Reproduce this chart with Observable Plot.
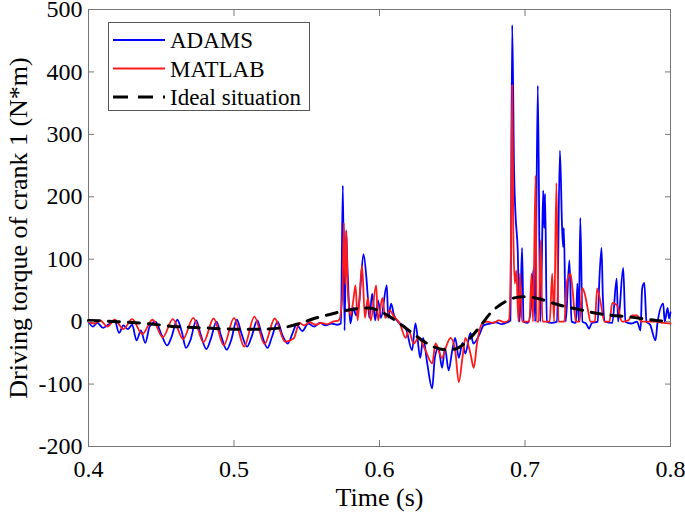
<!DOCTYPE html>
<html><head><meta charset="utf-8">
<script src="https://cdn.jsdelivr.net/npm/d3@7"></script>
<script src="https://cdn.jsdelivr.net/npm/@observablehq/plot@0.6"></script>
<style>
body{margin:0;background:#fff;}
#wrap{position:relative;width:685px;height:519px;}
#legend{position:absolute;left:108px;top:22px;}
</style>
</head><body>
<div id="wrap"><div id="chart"></div><div id="legend"></div></div>
<script>
const xTicks = [0.4, 0.5, 0.6, 0.7, 0.8];
const yTicks = [-200, -100, 0, 100, 200, 300, 400, 500];
const seriesNames = ["ADAMS", "MATLAB", "Ideal situation"];
const xLabel = "Time (s)";
const yLabel = "Driving torque of crank 1 (N*m)";

const adamsT = [0.400,0.403,0.406,0.410,0.414,0.418,0.421,0.424,0.427,0.430,0.433,0.436,0.439,0.442,0.446,0.450,0.454,0.457,0.461,0.464,0.467,0.470,0.474,0.477,0.481,0.484,0.488,0.491,0.495,0.498,0.502,0.505,0.509,0.512,0.516,0.519,0.523,0.526,0.530,0.533,0.537,0.540,0.543,0.547,0.551,0.555,0.559,0.563,0.567,0.571,0.5735,0.5748,0.576,0.5771,0.5778,0.579,0.580,0.582,0.584,0.586,0.589,0.591,0.592,0.593,0.595,0.597,0.599,0.601,0.605,0.606,0.608,0.610,0.614,0.618,0.6224,0.6247,0.628,0.630,0.6328,0.6362,0.638,0.6405,0.643,0.645,0.6475,0.650,0.652,0.6545,0.657,0.659,0.6625,0.6645,0.669,0.6715,0.676,0.680,0.684,0.688,0.690,0.6912,0.6925,0.6935,0.695,0.6962,0.697,0.698,0.699,0.702,0.704,0.706,0.707,0.7088,0.7105,0.7115,0.7125,0.7132,0.7138,0.715,0.718,0.722,0.724,0.7255,0.7262,0.7267,0.728,0.7305,0.732,0.735,0.736,0.737,0.738,0.7395,0.742,0.744,0.746,0.750,0.751,0.7526,0.7535,0.755,0.760,0.763,0.764,0.7675,0.769,0.773,0.777,0.7794,0.7805,0.782,0.7835,0.786,0.7897,0.791,0.795,0.796,0.798,0.799,0.800];
const adamsV = [0,-8,-2,-10,-4,2,-18,-6,-12,-5,-30,-14,-34,-8,0,-20,-38,-25,3,-15,-42,-30,2,-20,-44,-28,0,-22,-45,-30,3,-18,-40,-25,2,-20,-42,-25,0,-20,-35,-20,-5,-15,-3,-8,-2,-6,-3,-5,-3,218,-14,146,98,29,-3,22,10,30,108,70,38,6,45,2,34,6,58,6,29,10,-3,-10,-46,-3,-58,-26,-67,-107,-58,-42,-74,-42,-78,-46,-26,-58,-34,-51,-18,-35,-19,-6,-3,-1,-4,-1,2,475,240,170,114,0,40,118,0,-2,20,86,0,378,0,90,210,150,205,0,-2,0,274,150,120,150,0,98,0,-2,61,0,166,0,-3,-11,-2,0,61,118,40,0,-2,69,0,86,0,-3,0,-14,53,62,0,-5,-30,-3,29,0,22,5,15];

const matlabT = [0.400,0.404,0.408,0.413,0.418,0.424,0.430,0.437,0.444,0.451,0.458,0.465,0.472,0.479,0.486,0.493,0.500,0.507,0.514,0.521,0.528,0.535,0.541,0.545,0.548,0.552,0.556,0.560,0.564,0.568,0.572,0.5745,0.5755,0.5765,0.5772,0.578,0.580,0.582,0.5835,0.585,0.588,0.590,0.592,0.594,0.5977,0.599,0.602,0.604,0.607,0.610,0.614,0.618,0.620,0.6235,0.627,0.6316,0.6362,0.6385,0.643,0.6455,0.6488,0.652,0.6545,0.657,0.659,0.6625,0.6648,0.667,0.6706,0.674,0.678,0.682,0.686,0.689,0.6905,0.6912,0.692,0.693,0.694,0.6955,0.6965,0.698,0.703,0.7045,0.7055,0.7073,0.708,0.7095,0.7107,0.712,0.717,0.7187,0.720,0.7216,0.723,0.727,0.729,0.7313,0.7327,0.735,0.7375,0.7393,0.741,0.743,0.745,0.748,0.7496,0.752,0.7546,0.758,0.760,0.7633,0.7667,0.771,0.7737,0.777,0.780,0.790,0.795,0.800];
const matlabV = [0,-3,2,-8,3,-12,4,-20,3,-25,4,-28,6,-33,5,-38,6,-40,8,-36,5,-32,-27,-2,-6,-1,-5,-2,-4,0,2,40,158,60,145,60,10,34,58,2,90,6,38,2,58,2,38,6,18,8,-3,-26,-14,-35,-26,-46,-67,-35,-58,-42,-26,-46,-97,-58,-26,-51,-74,-35,-3,0,-2,2,-1,3,150,379,140,61,82,0,77,0,0,77,0,234,0,0,130,0,0,77,0,222,0,0,66,77,50,0,0,54,45,22,0,0,53,30,0,0,30,26,0,2,10,10,0,0,-2,-3];

const idealT = [0.400,0.420,0.440,0.460,0.480,0.500,0.520,0.535,0.545,0.555,0.565,0.575,0.585,0.593,0.600,0.607,0.615,0.623,0.630,0.637,0.645,0.652,0.658,0.664,0.670,0.676,0.683,0.690,0.698,0.705,0.712,0.720,0.730,0.740,0.750,0.760,0.770,0.780,0.790,0.800];
const idealV = [2,0,-3,-8,-10,-12,-12,-9,-3,5,11,17,21,22,17,8,-5,-19,-31,-40,-45,-44,-36,-22,-5,13,27,36,40,39,35,29,23,18,13,10,8,5,2,0];

const adams = adamsT.map((t, i) => ({t, v: adamsV[i]}));
const matlab = matlabT.map((t, i) => ({t, v: matlabV[i]}));
const ideal = idealT.map((t, i) => ({t, v: idealV[i]}));

const FONT = "Liberation Serif";
const frameColor = "#777";

const chart = Plot.plot({
  width: 685, height: 519,
  marginLeft: 88, marginRight: 15, marginTop: 9, marginBottom: 73,
  style: {fontFamily: FONT, fontSize: "24px", color: "#000", background: "#fff", overflow: "visible"},
  x: {domain: [0.4, 0.8], axis: null},
  y: {domain: [-200, 500], axis: null},
  marks: [
    Plot.frame({stroke: frameColor, strokeWidth: 1}),
    Plot.line(adams, {x: "t", y: "v", stroke: "#0000ff", strokeWidth: 1.8, curve: "monotone-x"}),
    Plot.line(matlab, {x: "t", y: "v", stroke: "#ff1a1a", strokeWidth: 1.8, curve: "monotone-x"}),
    Plot.line(ideal, {x: "t", y: "v", stroke: "#000", strokeWidth: 3, strokeDasharray: "11,9", curve: "monotone-x"}),
    Plot.axisX({ticks: xTicks, anchor: "bottom", tickSize: -6, tickFormat: () => "", label: null, stroke: frameColor}),
    Plot.axisX({ticks: xTicks, anchor: "top", tickSize: -6, tickFormat: () => "", label: null, stroke: frameColor}),
    Plot.axisY({ticks: yTicks, anchor: "left", tickSize: -6, tickFormat: () => "", label: null, stroke: frameColor}),
    Plot.axisY({ticks: yTicks, anchor: "right", tickSize: -6, tickFormat: () => "", label: null, stroke: frameColor}),
    Plot.text(xTicks, {x: d => d, frameAnchor: "bottom", dy: 23, text: d => d.toFixed(1), fontSize: 24, lineAnchor: "middle", textAnchor: "middle", fontFamily: FONT}),
    Plot.text(yTicks, {y: d => d, frameAnchor: "left", dx: -6, text: d => String(d), fontSize: 24, lineAnchor: "middle", textAnchor: "end", fontFamily: FONT}),
    Plot.text([xLabel], {frameAnchor: "bottom", dy: 51, fontSize: 26, lineAnchor: "middle", textAnchor: "middle", fontFamily: FONT}),
    Plot.text([yLabel], {frameAnchor: "left", dx: -70, rotate: -90, fontSize: 26, lineAnchor: "middle", textAnchor: "middle", fontFamily: FONT})
  ]
});
document.getElementById("chart").appendChild(chart);

// legend
const colors = ["#0000ff", "#ff1a1a", "#000"];
const dashes = [null, null, "15,10"];
const widths = [1.8, 1.8, 3];
const lw = 202, lh = 89;
const lsvg = d3.select("#legend").append("svg").attr("width", lw).attr("height", lh)
  .style("font-family", FONT);
lsvg.append("rect").attr("x", 0.5).attr("y", 0.5).attr("width", lw - 1).attr("height", lh - 1)
  .attr("fill", "#fff").attr("stroke", "#555").attr("stroke-width", 1);
seriesNames.forEach((name, i) => {
  const cy = 18 + i * 28.5;
  lsvg.append("line").attr("x1", 5).attr("x2", 57).attr("y1", cy).attr("y2", cy)
    .attr("stroke", colors[i]).attr("stroke-width", widths[i]).attr("stroke-dasharray", dashes[i]);
  lsvg.append("text").attr("x", 62).attr("y", cy).attr("dy", "0.35em")
    .attr("font-size", 23).attr("fill", "#000").text(name);
});
</script>
</body></html>
